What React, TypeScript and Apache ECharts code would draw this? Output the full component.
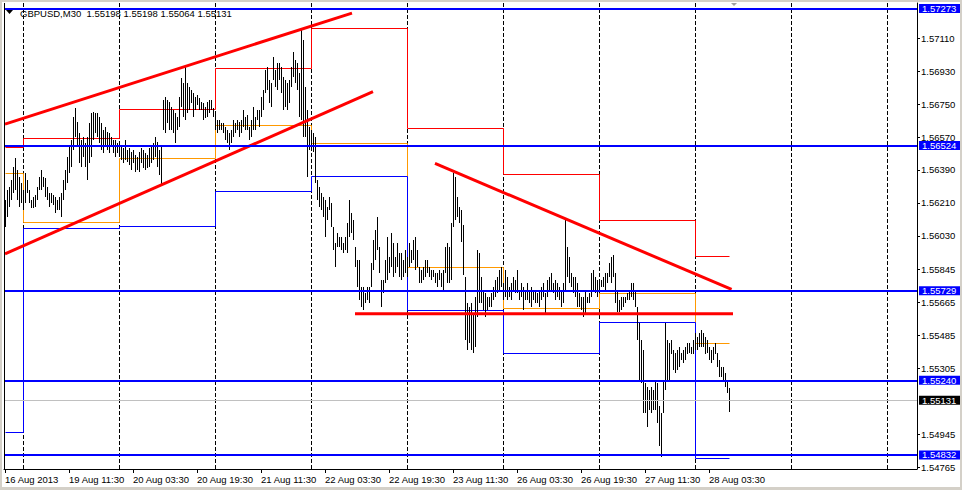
import React, { useEffect, useRef } from "react";
import * as echarts from "echarts";

const FONT = '"Liberation Sans", Arial, sans-serif';

const titleText = "GBPUSD,M30  1.55198 1.55198 1.55064 1.55131";

const timeLabels = [
  "16 Aug 2013", "19 Aug 11:30", "20 Aug 03:30", "20 Aug 19:30", "21 Aug 11:30", "22 Aug 03:30",
  "22 Aug 19:30", "23 Aug 11:30", "26 Aug 03:30", "26 Aug 19:30", "27 Aug 11:30", "28 Aug 03:30",
];
const timeLabelBars = [0, 32, 64, 96, 128, 160, 192, 224, 256, 288, 320, 352];

const priceTicks = [
  1.5711, 1.5693, 1.5675, 1.5657, 1.5639, 1.5621, 1.5603, 1.55845, 1.55665, 1.55485, 1.55305, 1.54945, 1.54765,
];

const highs = [
  1.56225, 1.5628, 1.56297, 1.56335, 1.56406, 1.56455, 1.56389, 1.56351, 1.56319, 1.5628,
  1.56373, 1.56335, 1.5628, 1.56225, 1.56242, 1.56253, 1.56297, 1.56351, 1.56389, 1.56351,
  1.56345, 1.56297, 1.56264, 1.56264, 1.56253, 1.56242, 1.56225, 1.56242, 1.56264, 1.56335,
  1.56389, 1.56461, 1.56515, 1.56553, 1.5668, 1.56728, 1.56652, 1.56592, 1.56553, 1.5657,
  1.56537, 1.5657, 1.56647, 1.56702, 1.56707, 1.56702, 1.56702, 1.5668, 1.56647, 1.56608,
  1.56625, 1.56597, 1.56592, 1.5657, 1.56553, 1.56553, 1.56537, 1.56542, 1.56526, 1.5651,
  1.56553, 1.56499, 1.5651, 1.56488, 1.56499, 1.56472, 1.56461, 1.56488, 1.5651, 1.56499,
  1.56483, 1.56472, 1.5651, 1.56515, 1.56537, 1.5657, 1.56542, 1.56499, 1.56526, 1.56772,
  1.56789, 1.56772, 1.56761, 1.56734, 1.56718, 1.56702, 1.5668, 1.56789, 1.56893, 1.56865,
  1.56952, 1.56865, 1.56843, 1.56827, 1.5681, 1.56789, 1.56799, 1.56783, 1.56761, 1.56756,
  1.56734, 1.56761, 1.56772, 1.56772, 1.56728, 1.56702, 1.56663, 1.56663, 1.56647, 1.56647,
  1.56625, 1.56608, 1.56592, 1.56608, 1.56663, 1.56647, 1.56663, 1.56652, 1.56663, 1.56718,
  1.5668, 1.5669, 1.56625, 1.56663, 1.56734, 1.5668, 1.56718, 1.56718, 1.56789, 1.56827,
  1.56936, 1.56952, 1.56882, 1.56865, 1.57008, 1.56936, 1.56974, 1.56974, 1.56952, 1.56898,
  1.56882, 1.56865, 1.56882, 1.56952, 1.57035, 1.56991, 1.56974, 1.5692, 1.57166, 1.571,
  1.56843, 1.56718, 1.56625, 1.56608, 1.56592, 1.5657, 1.56335, 1.56297, 1.56264, 1.56242,
  1.56225, 1.56187, 1.56242, 1.56209, 1.56078, 1.55991, 1.56045, 1.56023, 1.56023, 1.55991,
  1.56023, 1.561, 1.56225, 1.56155, 1.56116, 1.55969, 1.55897, 1.55897, 1.5575, 1.5575,
  1.55717, 1.5575, 1.5575, 1.55881, 1.56007, 1.56061, 1.56133, 1.55969, 1.55788, 1.55788,
  1.55897, 1.56023, 1.55914, 1.56045, 1.55991, 1.55914, 1.55991, 1.55936, 1.55936, 1.55897,
  1.55952, 1.55914, 1.55991, 1.55952, 1.56007, 1.56023, 1.55952, 1.55859, 1.55843, 1.55859,
  1.55897, 1.55897, 1.55859, 1.55843, 1.55843, 1.55827, 1.55827, 1.55843, 1.55827, 1.55843,
  1.55969, 1.55991, 1.55969, 1.561, 1.56373, 1.56351, 1.56242, 1.56187, 1.56171, 1.56089,
  1.55805, 1.55662, 1.5564, 1.55662, 1.55608, 1.55695, 1.55952, 1.55936, 1.55805, 1.55733,
  1.55717, 1.55695, 1.55695, 1.55717, 1.5575, 1.55788, 1.55805, 1.55843, 1.55859, 1.55772,
  1.55843, 1.55805, 1.5575, 1.55772, 1.55805, 1.55788, 1.55843, 1.55733, 1.55772, 1.5575,
  1.55733, 1.55772, 1.55733, 1.5575, 1.55733, 1.55733, 1.55717, 1.55733, 1.5575, 1.55772,
  1.55717, 1.55788, 1.55805, 1.55827, 1.55772, 1.55788, 1.55772, 1.5575, 1.55733, 1.55772,
  1.56116, 1.55969, 1.55914, 1.55827, 1.55805, 1.55805, 1.55772, 1.55717, 1.55695, 1.55695,
  1.55733, 1.55695, 1.55717, 1.55827, 1.55843, 1.55805, 1.55788, 1.55788, 1.55788, 1.55805,
  1.55827, 1.55827, 1.55881, 1.55914, 1.55925, 1.55827, 1.55733, 1.55678, 1.55695, 1.55695,
  1.55695, 1.55717, 1.55733, 1.55772, 1.55772, 1.55733, 1.5564, 1.55553, 1.5546, 1.55405,
  1.55225, 1.55203, 1.55186, 1.55203, 1.55186, 1.55241, 1.55225, 1.55099, 1.5506, 1.55241,
  1.55553, 1.5546, 1.55444, 1.5546, 1.55405, 1.55389, 1.55405, 1.55422, 1.55389, 1.55405,
  1.55422, 1.55444, 1.55444, 1.55422, 1.5546, 1.55498, 1.55476, 1.55498, 1.55514, 1.55498,
  1.55476, 1.5546, 1.55422, 1.55405, 1.55422, 1.55444, 1.55389, 1.5535, 1.55312, 1.55312,
  1.5528, 1.55241, 1.55198,
];

const lows = [
  1.56078, 1.56133, 1.56187, 1.56225, 1.56264, 1.5628, 1.56225, 1.56187, 1.56209, 1.56171,
  1.56209, 1.56264, 1.56209, 1.56181, 1.56181, 1.56187, 1.56225, 1.5628, 1.5628, 1.56297,
  1.56242, 1.56225, 1.56187, 1.56209, 1.56198, 1.56155, 1.56171, 1.56171, 1.56133, 1.56225,
  1.5628, 1.56319, 1.56373, 1.56406, 1.56499, 1.5657, 1.56515, 1.56428, 1.56406, 1.56461,
  1.56406, 1.56335, 1.56428, 1.56461, 1.56553, 1.56592, 1.5657, 1.56537, 1.56499, 1.56483,
  1.56515, 1.56499, 1.56483, 1.56515, 1.56483, 1.56461, 1.56483, 1.56472, 1.56444, 1.56428,
  1.56444, 1.56433, 1.56417, 1.56389, 1.56428, 1.56378, 1.56389, 1.56378, 1.56428, 1.564,
  1.56389, 1.564, 1.56406, 1.56428, 1.56444, 1.56461, 1.56406, 1.56362, 1.56302, 1.56608,
  1.56592, 1.56647, 1.56608, 1.56608, 1.56592, 1.56537, 1.56608, 1.56625, 1.56734, 1.5668,
  1.56663, 1.56702, 1.56718, 1.56756, 1.5668, 1.56718, 1.56745, 1.56718, 1.56718, 1.56663,
  1.56674, 1.5668, 1.56702, 1.56718, 1.5668, 1.56608, 1.56592, 1.56608, 1.56608, 1.56592,
  1.56553, 1.56537, 1.56499, 1.56537, 1.5657, 1.56592, 1.56608, 1.5657, 1.56592, 1.56625,
  1.56608, 1.56608, 1.56553, 1.5657, 1.56608, 1.56608, 1.56663, 1.56625, 1.5668, 1.56718,
  1.5681, 1.56827, 1.56756, 1.56734, 1.56882, 1.56843, 1.56827, 1.56882, 1.5681, 1.56718,
  1.56734, 1.56718, 1.56756, 1.56843, 1.56898, 1.56865, 1.56827, 1.5668, 1.56663, 1.5657,
  1.5657, 1.56351, 1.56499, 1.56499, 1.56488, 1.56319, 1.56225, 1.56187, 1.56171, 1.56133,
  1.56023, 1.56116, 1.56171, 1.56078, 1.55952, 1.55859, 1.55969, 1.55969, 1.55952, 1.55936,
  1.55952, 1.55936, 1.56023, 1.56045, 1.56007, 1.55859, 1.5575, 1.55678, 1.5564, 1.55624,
  1.55662, 1.55678, 1.55662, 1.5575, 1.55843, 1.55897, 1.55952, 1.55827, 1.5564, 1.55717,
  1.55772, 1.55788, 1.55827, 1.55859, 1.55805, 1.55827, 1.55859, 1.55805, 1.55788, 1.55805,
  1.55827, 1.55805, 1.55859, 1.55881, 1.55897, 1.55843, 1.55859, 1.55772, 1.55772, 1.55788,
  1.55805, 1.55827, 1.55805, 1.55788, 1.55805, 1.55772, 1.5575, 1.55788, 1.5575, 1.55733,
  1.55827, 1.55772, 1.55772, 1.55788, 1.56078, 1.56116, 1.56133, 1.561, 1.55996, 1.55816,
  1.5546, 1.55405, 1.55444, 1.55405, 1.55389, 1.55422, 1.55586, 1.55662, 1.55662, 1.55624,
  1.55586, 1.55624, 1.5564, 1.5564, 1.55678, 1.55695, 1.55717, 1.55733, 1.5575, 1.55678,
  1.55695, 1.55678, 1.55695, 1.55678, 1.55733, 1.55717, 1.55717, 1.55678, 1.55695, 1.55624,
  1.55678, 1.55678, 1.55662, 1.5564, 1.55678, 1.55662, 1.55662, 1.5564, 1.55678, 1.55695,
  1.55608, 1.55695, 1.55733, 1.55733, 1.55717, 1.55678, 1.55695, 1.55678, 1.5564, 1.55662,
  1.55733, 1.55805, 1.55772, 1.5575, 1.55717, 1.55695, 1.5564, 1.5564, 1.55624, 1.55586,
  1.55608, 1.55662, 1.55662, 1.55695, 1.55733, 1.55717, 1.55695, 1.55733, 1.5575, 1.5575,
  1.55733, 1.55772, 1.55805, 1.55772, 1.55805, 1.55662, 1.55613, 1.55613, 1.55624, 1.5564,
  1.55662, 1.55678, 1.55678, 1.55695, 1.55678, 1.5564, 1.5546, 1.55241, 1.55225, 1.5506,
  1.5506, 1.54984, 1.55077, 1.5506, 1.55077, 1.55077, 1.55006, 1.5488, 1.5482, 1.5506,
  1.55186, 1.55241, 1.55241, 1.55383, 1.55296, 1.5528, 1.55296, 1.55312, 1.5535, 1.55334,
  1.5535, 1.55383, 1.55389, 1.55383, 1.55383, 1.55405, 1.55405, 1.55422, 1.55422, 1.55422,
  1.55383, 1.55389, 1.5535, 1.55334, 1.5535, 1.55383, 1.55312, 1.55257, 1.55257, 1.55241,
  1.55203, 1.5517, 1.55064,
];

const daySeparators = [9, 57, 105, 153, 201, 249, 297, 345, 393, 441];

const pivotBounds = [0, 9, 57, 105, 153, 201, 249, 297, 345];
const pivotLastBar = 362;
const pivotR = [1.56513, 1.56563, 1.56721, 1.56946, 1.57166, 1.56617, 1.56367, 1.56116, 1.55919];
const pivotP = [1.56371, 1.56107, 1.56455, 1.56634, 1.56539, 1.55859, 1.55633, 1.55715, 1.55442];
const pivotS = [1.54957, 1.56074, 1.56085, 1.56277, 1.56358, 1.55622, 1.55387, 1.55557, 1.54813];

const upperChannel = [[0, 1.56641], [173.5, 1.57248]];
const lowerChannel = [[0, 1.55931], [184, 1.56819]];
const fallingLine = [[215, 1.56426], [363.3, 1.55737]];
const supportLine = [[175, 1.55604], [364, 1.55604]];

const levels = [1.57273, 1.56524, 1.55729, 1.5524, 1.54832];
const bidPrice = 1.55131;

const Y_MIN = 1.54755;
const Y_MAX = 1.57303;

function pivotData(vals: number[]) {
  return vals.map((v, k) => [
    pivotBounds[k],
    k + 1 < pivotBounds.length ? pivotBounds[k + 1] : pivotLastBar,
    v,
    k > 0 ? vals[k - 1] : v,
  ]);
}

function pivotSeries(vals: number[], color: string) {
  return {
    type: "custom",
    silent: true,
    clip: false,
    z: 3,
    data: pivotData(vals),
    encode: { x: [0, 1], y: [2, 3] },
    renderItem: (params: any, api: any) => {
      const x1 = Math.round(api.coord([api.value(0), api.value(2)])[0]) + 0.5;
      const x2 = Math.round(api.coord([api.value(1), api.value(2)])[0]) + 0.5;
      const y = Math.round(api.coord([api.value(0), api.value(2)])[1]) + 0.5;
      const yp = Math.round(api.coord([api.value(0), api.value(3)])[1]) + 0.5;
      const style = { stroke: color, lineWidth: 1, fill: null };
      return {
        type: "group",
        children: [
          { type: "line", shape: { x1, y1: y, x2, y2: y }, style },
          { type: "line", shape: { x1, y1: yp, x2: x1, y2: y }, style },
        ],
      };
    },
  };
}

function trendSeries(data: number[][], extra: any = {}) {
  return {
    type: "line",
    silent: true,
    symbol: "none",
    z: 5,
    data,
    lineStyle: { color: "#ff0000", width: 3 },
    ...extra,
  };
}

function levelLabel(bg: string) {
  return {
    show: true,
    position: "end",
    distance: 2,
    formatter: (p: any) => Number(p.value).toFixed(5),
    color: "#ffffff",
    backgroundColor: bg,
    fontSize: 9.5,
    fontFamily: FONT,
    lineHeight: 9,
    padding: [0, 4, 0, 3],
  };
}

export default function App() {
  const ref = useRef<HTMLDivElement>(null);

  useEffect(() => {
    if (!ref.current) return;
    const chart = echarts.init(ref.current, null, { renderer: "svg" });

    const barData = highs.map((h, i) => [i, lows[i], h]);

    const option: any = {
      animation: false,
      backgroundColor: "#ffffff",
      textStyle: { fontFamily: FONT },
      grid: { left: 4, right: 45, top: 3, bottom: 21, containLabel: false, outerBoundsMode: "none" },
      xAxis: {
        type: "value",
        min: -0.5,
        max: 456,
        position: "bottom",
        axisLine: { show: true, onZero: false, lineStyle: { color: "#000", width: 1 } },
        axisTick: { show: true, customValues: timeLabelBars, length: 4, lineStyle: { color: "#000" } },
        axisLabel: {
          customValues: timeLabelBars,
          formatter: (v: number) => timeLabels[timeLabelBars.indexOf(Math.round(v))] ?? "",
          align: "left",
          margin: 5,
          color: "#000",
          fontSize: 9.5,
          fontFamily: FONT,
          hideOverlap: false,
        },
        splitLine: { show: false },
      },
      yAxis: {
        type: "value",
        position: "right",
        min: Y_MIN,
        max: Y_MAX,
        axisLine: { show: true, onZero: false, lineStyle: { color: "#000", width: 1 } },
        axisTick: { show: true, customValues: priceTicks, length: 3, lineStyle: { color: "#000" } },
        axisLabel: {
          customValues: priceTicks,
          formatter: (v: number) => v.toFixed(5),
          margin: 4,
          color: "#000",
          fontSize: 9.5,
          fontFamily: FONT,
        },
        splitLine: { show: false },
      },
      graphic: [
        { type: "rect", shape: { x: 0, y: 0, width: 962, height: 2 }, style: { fill: "#d4d0c8" }, z: 100 },
        { type: "rect", shape: { x: 0, y: 0, width: 2, height: 490 }, style: { fill: "#d4d0c8" }, z: 100 },
        { type: "rect", shape: { x: 0, y: 487, width: 962, height: 3 }, style: { fill: "#d4d0c8" }, z: 100 },
        { type: "rect", shape: { x: 960, y: 0, width: 2, height: 490 }, style: { fill: "#d4d0c8" }, z: 100 },
        { type: "line", shape: { x1: 4.5, y1: 3, x2: 4.5, y2: 469 }, style: { stroke: "#000", lineWidth: 1 }, z: 50 },
        { type: "polygon", shape: { points: [[6, 10], [13, 10], [9.5, 14]] }, style: { fill: "#000" }, z: 60 },
        { type: "polygon", shape: { points: [[731, 3], [737, 3], [734, 6]] }, style: { fill: "#a0a0a0" }, z: 60 },
        {
          type: "text",
          x: 20,
          y: 8,
          style: { text: titleText, font: `9.5px ${FONT}`, fill: "#000" },
          z: 60,
        },
      ],
      series: [
        {
          type: "custom",
          silent: true,
          clip: false,
          z: 1,
          data: daySeparators.map((s) => [s]),
          encode: { x: 0 },
          renderItem: (params: any, api: any) => {
            const cs = params.coordSys;
            const x = Math.round(api.coord([api.value(0), Y_MIN])[0]) + 0.5;
            return {
              type: "line",
              shape: { x1: x, y1: cs.y, x2: x, y2: cs.y + cs.height },
              style: { stroke: "#000", lineWidth: 1, lineDash: [4, 2] },
            };
          },
        },
        pivotSeries(pivotR, "#ff0000"),
        pivotSeries(pivotP, "#ff9900"),
        pivotSeries(pivotS, "#0000ff"),
        {
          type: "custom",
          silent: true,
          clip: false,
          z: 4,
          data: barData,
          encode: { x: 0, y: [1, 2] },
          renderItem: (params: any, api: any) => {
            const i = api.value(0);
            const pLow = api.coord([i, api.value(1)]);
            const pHigh = api.coord([i, api.value(2)]);
            const x = Math.round(pLow[0]) + 0.5;
            const y1 = Math.round(pHigh[1]);
            const y2 = Math.max(Math.round(pLow[1]), y1 + 1);
            return {
              type: "line",
              shape: { x1: x, y1, x2: x, y2 },
              style: { stroke: "#000", lineWidth: 1 },
            };
          },
        },
        trendSeries(upperChannel, {
          markLine: {
            silent: true,
            symbol: "none",
            animation: false,
            precision: 5,
            z: 6,
            lineStyle: { color: "#0000ff", width: 2, type: "solid" },
            label: levelLabel("#0000ff"),
            data: levels.map((v) => ({ yAxis: v })),
          },
        }),
        trendSeries(lowerChannel, {
          markLine: {
            silent: true,
            symbol: "none",
            animation: false,
            precision: 5,
            lineStyle: { color: "#c0c0c0", width: 1, type: "solid" },
            label: levelLabel("#000000"),
            data: [{ yAxis: bidPrice }],
          },
        }),
        trendSeries(fallingLine),
        trendSeries(supportLine),
      ],
    };

    chart.setOption(option);
    return () => chart.dispose();
  }, []);

  return (
    <div
      ref={ref}
      style={{ position: "fixed", left: 0, top: 0, width: 962, height: 490, background: "#fff" }}
    />
  );
}
